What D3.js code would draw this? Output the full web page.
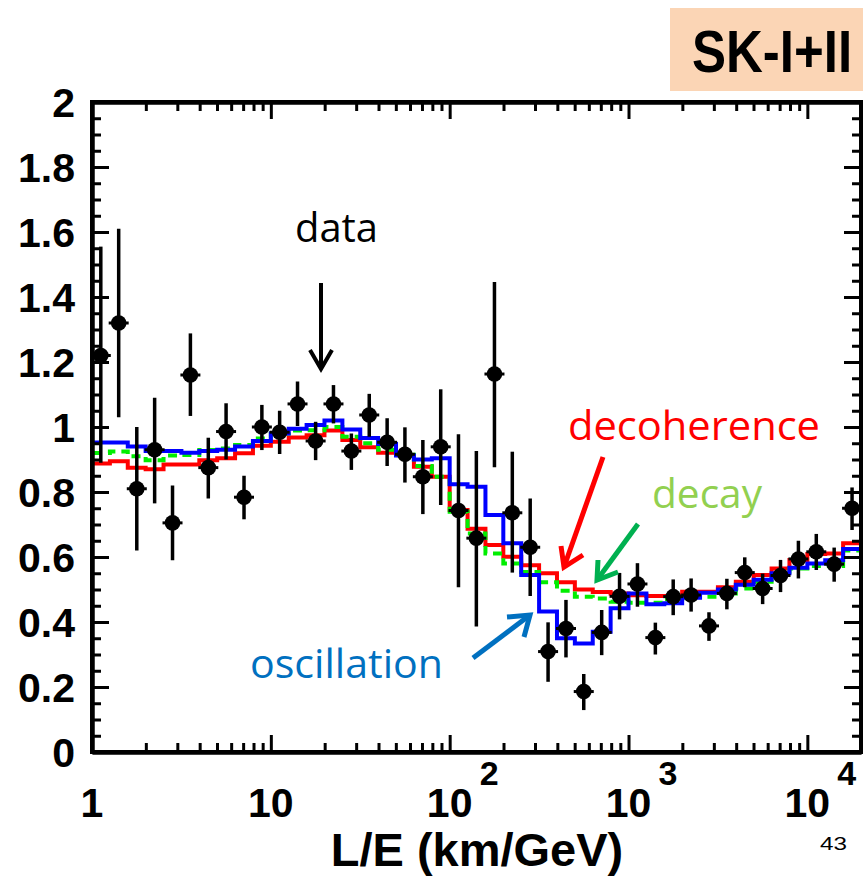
<!DOCTYPE html>
<html>
<head>
<meta charset="utf-8">
<script src="https://cdn.jsdelivr.net/npm/d3@7"></script>
<style>
  html, body { margin: 0; padding: 0; background: #fff; }
  svg { display: block; }
</style>
</head>
<body>
<svg id="chart" width="863" height="878"></svg>
<script>
// ---------------- DATA ----------------
// bin edges in L/E (km/GeV)
const binEdges = [1, 1.259, 1.585, 1.995, 2.512, 3.162, 3.981, 5.012, 6.310, 7.943,
  10, 12.59, 15.85, 19.95, 25.12, 31.62, 39.81, 50.12, 63.10, 79.43,
  100, 125.9, 158.5, 199.5, 251.2, 316.2, 398.1, 501.2, 631.0, 794.3,
  1000, 1259, 1585, 1995, 2512, 3162, 3981, 5012, 6310, 7943,
  10000, 12589, 15849, 19953];

// data point positions (bin centres)
const dataLE = [1.12, 1.41, 1.78, 2.24, 2.82, 3.55, 4.47, 5.62, 7.08, 8.91,
  11.2, 14.1, 17.8, 22.4, 28.2, 35.5, 44.7, 56.2, 70.8, 89.1,
  112, 141, 178, 224, 282, 355, 447, 562, 708, 891,
  1122, 1413, 1778, 2239, 2818, 3548, 4467, 5623, 7079, 8913,
  11220, 14125, 17783];

const dataRatio = [1.22, 1.32, 0.81, 0.93, 0.705, 1.16, 0.875, 0.986, 0.784, 1.0,
  0.984, 1.071, 0.957, 1.071, 0.926, 1.037, 0.953, 0.916, 0.847, 0.939,
  0.743, 0.658, 1.163, 0.736, 0.63, 0.309, 0.38, 0.186, 0.368, 0.479,
  0.517, 0.352, 0.478, 0.483, 0.388, 0.488, 0.552, 0.503, 0.543, 0.594,
  0.616, 0.578, 0.75];

const dataLow = [0.89, 1.03, 0.62, 0.765, 0.59, 1.034, 0.78, 0.90, 0.716, 0.929,
  0.917, 1.003, 0.898, 1.011, 0.868, 0.97, 0.88, 0.829, 0.732, 0.76,
  0.507, 0.386, 0.876, 0.552, 0.48, 0.216, 0.291, 0.129, 0.298, 0.408,
  0.447, 0.30, 0.421, 0.432, 0.342, 0.439, 0.507, 0.455, 0.492, 0.534,
  0.56, 0.524, 0.683];

const dataHigh = [1.555, 1.61, 1.0, 1.09, 0.82, 1.288, 0.967, 1.073, 0.85, 1.068,
  1.05, 1.14, 1.016, 1.129, 0.98, 1.102, 1.027, 0.999, 0.96, 1.116,
  0.978, 0.926, 1.446, 0.924, 0.78, 0.399, 0.468, 0.24, 0.437, 0.551,
  0.581, 0.398, 0.531, 0.534, 0.43, 0.533, 0.599, 0.549, 0.591, 0.65,
  0.671, 0.629, 0.814];

// model histograms (one value per bin)
const oscillation = [0.952, 0.952, 0.94, 0.926, 0.926, 0.921, 0.926, 0.93, 0.94, 0.957,
  0.98, 0.995, 1.006, 1.02, 0.992, 0.966, 0.948, 0.912, 0.90, 0.904,
  0.824, 0.816, 0.729, 0.642, 0.545, 0.432, 0.350, 0.334, 0.370, 0.442,
  0.488, 0.455, 0.458, 0.475, 0.49, 0.5, 0.515, 0.53, 0.55, 0.567,
  0.58, 0.59, 0.625];

const decoherence = [0.888, 0.895, 0.875, 0.870, 0.885, 0.885, 0.898, 0.904, 0.919, 0.942,
  0.955, 0.968, 0.975, 0.989, 0.96, 0.938, 0.921, 0.914, 0.878, 0.847,
  0.745, 0.687, 0.637, 0.601, 0.575, 0.55, 0.522, 0.5, 0.492, 0.488,
  0.482, 0.48, 0.48, 0.493, 0.493, 0.507, 0.524, 0.545, 0.565, 0.591,
  0.609, 0.611, 0.642];

const decay = [0.92, 0.925, 0.91, 0.898, 0.912, 0.914, 0.929, 0.934, 0.945, 0.965,
  0.98, 0.989, 0.99, 1.0, 0.97, 0.95, 0.93, 0.915, 0.88, 0.847,
  0.739, 0.672, 0.611, 0.58, 0.554, 0.522, 0.496, 0.478, 0.472, 0.462,
  0.459, 0.459, 0.47, 0.478, 0.478, 0.488, 0.503, 0.524, 0.545, 0.565,
  0.572, 0.572, 0.62];

// axis ticks
const yTickValues = [0, 0.2, 0.4, 0.6, 0.8, 1, 1.2, 1.4, 1.6, 1.8, 2];
const yTickLabels = ["0", "0.2", "0.4", "0.6", "0.8", "1", "1.2", "1.4", "1.6", "1.8", "2"];
const xTickValues = [1, 10, 100, 1000, 10000];
const xTickBase = ["1", "10", "10", "10", "10"];
const xTickExp = ["", "", "2", "3", "4"];

// ---------------- CHART ----------------
const svg = d3.select("#chart");
const L = 92, R = 861, T = 102, B = 752;

const x = d3.scaleLog().domain([1, 19953]).range([L, R]);
const y = d3.scaleLinear().domain([0, 2]).range([B, T]);

// step histograms
function stepPoints(vals) {
  const pts = [[binEdges[0], 0]];
  vals.forEach((v, i) => pts.push([binEdges[i], v]));
  pts.push([binEdges[binEdges.length - 1], vals[vals.length - 1]]);
  pts.push([binEdges[binEdges.length - 1], 0]);
  return pts;
}
const stepLine = d3.line().x(d => x(d[0])).y(d => y(d[1])).curve(d3.curveStepAfter);

const curves = svg.append("g");
curves.append("path").attr("d", stepLine(stepPoints(decoherence)))
  .attr("fill", "none").attr("stroke", "#ff0000").attr("stroke-width", 4);
curves.append("path").attr("d", stepLine(stepPoints(decay)))
  .attr("fill", "none").attr("stroke", "#00ee00").attr("stroke-width", 4)
  .attr("stroke-dasharray", "9,6");
curves.append("path").attr("d", stepLine(stepPoints(oscillation)))
  .attr("fill", "none").attr("stroke", "#0000ff").attr("stroke-width", 4);

// data points
const pts = svg.append("g");
dataLE.forEach((le, i) => {
  const cx = x(le);
  pts.append("line").attr("x1", cx).attr("x2", cx)
    .attr("y1", y(dataLow[i])).attr("y2", y(dataHigh[i]))
    .attr("stroke", "#000").attr("stroke-width", 3.5);
  pts.append("line").attr("x1", cx - 10).attr("x2", cx + 10)
    .attr("y1", y(dataRatio[i])).attr("y2", y(dataRatio[i]))
    .attr("stroke", "#000").attr("stroke-width", 3);
  pts.append("circle").attr("cx", cx).attr("cy", y(dataRatio[i])).attr("r", 7.8)
    .attr("fill", "#000");
});

// axes (ticks pointing inward)
const xMinor = [];
for (let d = 1; d <= 10000; d *= 10) for (let k = 2; k <= 9; k++) if (d * k < 19953) xMinor.push(d * k);
const yMinor = d3.range(0, 2.0001, 0.05).filter(v => Math.abs(v * 5 - Math.round(v * 5)) > 1e-6);

function styleAxis(g) {
  g.selectAll("path.domain").attr("stroke", "#000").attr("stroke-width", 4);
  g.selectAll(".tick line").attr("stroke", "#000").attr("stroke-width", 3);
  g.selectAll(".tick text").remove();
}
const axG = svg.append("g");
axG.append("g").attr("transform", `translate(0,${B})`)
  .call(d3.axisBottom(x).tickValues(xMinor).tickSize(-9).tickSizeOuter(0)).call(styleAxis);
axG.append("g").attr("transform", `translate(0,${B})`)
  .call(d3.axisBottom(x).tickValues(xTickValues).tickSize(-17).tickSizeOuter(0)).call(styleAxis);
axG.append("g").attr("transform", `translate(0,${T})`)
  .call(d3.axisTop(x).tickValues(xMinor).tickSize(-9).tickSizeOuter(0)).call(styleAxis);
axG.append("g").attr("transform", `translate(0,${T})`)
  .call(d3.axisTop(x).tickValues(xTickValues).tickSize(-17).tickSizeOuter(0)).call(styleAxis);
axG.append("g").attr("transform", `translate(${L},0)`)
  .call(d3.axisLeft(y).tickValues(yMinor).tickSize(-9).tickSizeOuter(0)).call(styleAxis);
axG.append("g").attr("transform", `translate(${L},0)`)
  .call(d3.axisLeft(y).tickValues(yTickValues).tickSize(-17).tickSizeOuter(0)).call(styleAxis);
axG.append("g").attr("transform", `translate(${R},0)`)
  .call(d3.axisRight(y).tickValues(yMinor).tickSize(-9).tickSizeOuter(0)).call(styleAxis);
axG.append("g").attr("transform", `translate(${R},0)`)
  .call(d3.axisRight(y).tickValues(yTickValues).tickSize(-17).tickSizeOuter(0)).call(styleAxis);
axG.append("rect").attr("x", L).attr("y", T).attr("width", R - L).attr("height", B - T)
  .attr("fill", "none").attr("stroke", "#000").attr("stroke-width", 4);

// tick labels
const fontB = "'Liberation Sans', Arial, Helvetica, sans-serif";
yTickValues.forEach((v, i) => {
  svg.append("text").attr("x", 75).attr("y", y(v) + 14.5)
    .attr("text-anchor", "end").attr("font-family", fontB).attr("font-weight", "bold")
    .attr("font-size", 41).attr("fill", "#000").text(yTickLabels[i]);
});
xTickValues.forEach((v, i) => {
  svg.append("text").attr("x", x(v)).attr("y", 817)
    .attr("text-anchor", "middle").attr("font-family", fontB).attr("font-weight", "bold")
    .attr("font-size", 41).attr("fill", "#000").text(xTickBase[i]);
  if (xTickExp[i]) {
    svg.append("text").attr("x", x(v) + 30).attr("y", 785)
      .attr("font-family", fontB).attr("font-weight", "bold")
      .attr("font-size", 34).attr("fill", "#000").text(xTickExp[i]);
  }
});

// axis title
svg.append("text").attr("x", 477).attr("y", 866).attr("text-anchor", "middle")
  .attr("font-family", fontB).attr("font-weight", "bold").attr("font-size", 47)
  .attr("fill", "#000").text("L/E (km/GeV)");

// page number
svg.append("text").attr("x", 820).attr("y", 850)
  .attr("font-family", fontB).attr("font-size", 18).attr("fill", "#000")
  .attr("textLength", 27).attr("lengthAdjust", "spacingAndGlyphs").text("43");

// SK-I+II label box
svg.append("rect").attr("x", 670).attr("y", 8).attr("width", 193).attr("height", 83)
  .attr("fill", "#fbd5b5");
svg.append("text").attr("transform", "translate(692,72) scale(1,1.15)")
  .attr("font-family", fontB).attr("font-weight", "bold").attr("font-size", 51)
  .attr("fill", "#000").text("SK-I+II");

// annotations
const fontA = "'Open Sans', 'Noto Sans', sans-serif";
function label(txt, xx, yy, col, w) {
  svg.append("text").attr("x", xx).attr("y", yy).attr("font-family", fontA)
    .attr("font-size", 41).attr("fill", col)
    .attr("textLength", w).attr("lengthAdjust", "spacingAndGlyphs").text(txt);
}
label("data", 295, 242, "#000", 83);
label("decoherence", 568, 440, "#ff0000", 252);
label("decay", 652, 508, "#92d050", 110);
label("oscillation", 250, 678, "#0070c0", 193);

function arrow(x1, y1, x2, y2, h1, h2, col, w) {
  const g = svg.append("g").attr("stroke", col).attr("stroke-width", w)
    .attr("fill", "none").attr("stroke-linecap", "butt");
  g.append("line").attr("x1", x1).attr("y1", y1).attr("x2", x2).attr("y2", y2);
  g.append("path").attr("d", `M${h1[0]},${h1[1]} L${x2},${y2} L${h2[0]},${h2[1]}`)
    .attr("stroke-linejoin", "miter");
}
arrow(321, 283, 321, 369, [310, 350], [332, 350], "#000", 4);
arrow(603, 457, 564, 567, [561, 546], [583, 555], "#ff0000", 5);
arrow(638, 524, 597, 580, [598, 560], [618, 572], "#00b050", 5);
arrow(473, 658, 530, 615, [507, 617], [524, 637], "#0070c0", 5);
</script>
</body>
</html>
